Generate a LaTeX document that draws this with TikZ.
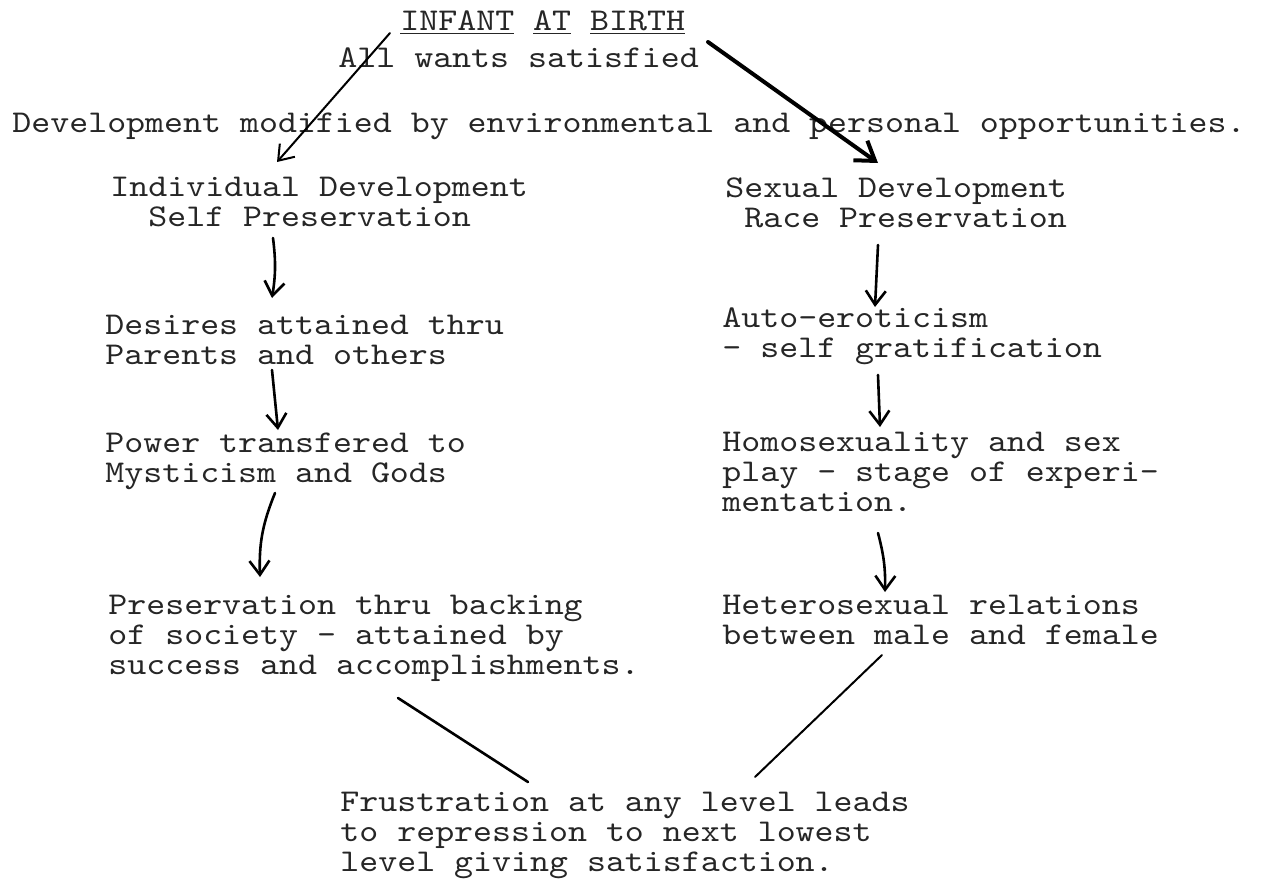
\documentclass[tikz,border=0pt]{standalone}
\usepackage{fontspec}
\setmonofont[FakeStretch=1.14]{lmmono10-regular.otf}
\usetikzlibrary{arrows.meta}

\tikzset{
  typed/.style={font={\ttfamily\fontsize{15.85pt}{15pt}\selectfont\lineskiplimit=-10pt},
    text=black!85, align=left, inner sep=0pt, anchor=north west},
  pen/.style={line width=1.3pt, line cap=round, -{Straight Barb[length=7pt,width=10pt]}},
  bigpen/.style={pen, -{Straight Barb[length=9pt,width=12pt]}},
  stroke/.style={line width=1.3pt, line cap=round}
}

\begin{document}
\begin{tikzpicture}[x=0.5pt, y=-0.5pt]
    \useasboundingbox (0,0) rectangle (1274,884);
    % heading
    \node[typed] (infant) at (400,10) {\underline{INFANT} \underline{AT} \underline{BIRTH}};
    \node[typed] (wants) at (338,47) {All wants satisfied};
    \node[typed] (devel) at (12,113) {Development modified by environmental and personal opportunities.};
    % left column
    \node[typed] (indiv) at (110,177) {Individual Development\\\phantom{xx}Self Preservation};
    \node[typed] (desires) at (105,315) {Desires attained thru\\Parents and others};
    \node[typed] (power) at (105,433) {Power transfered to\\Mysticism and Gods};
    \node[typed] (society) at (108,595) {Preservation thru backing\\of society - attained by\\success and accomplishments.};
    % right column
    \node[typed] (sexual) at (725,177) {Sexual Development\\\phantom{x}Race Preservation};
    \node[typed] (auto) at (722,307) {Auto-eroticism\\- self gratification};
    \node[typed] (homo) at (722,432) {Homosexuality and sex\\play - stage of experi-\\mentation.};
    \node[typed] (hetero) at (722,595) {Heterosexual relations\\between male and female};
    % bottom
    \node[typed] (frustr) at (340,792) {Frustration at any level leads\\to repression to next lowest\\level giving satisfaction.};

    \draw[pen, line width=1pt] ([shift={(52,-14)}]wants.north west) -- ([shift={(167,-15)}]indiv.north west);
    \draw[bigpen, line width=2pt] ([shift={(370,-5)}]wants.north west) -- ([shift={(153,-14)}]sexual.north west);

    \draw[pen] ([shift={(163,61)}]indiv.north west) to[bend left=8] ([shift={(167,-17)}]desires.north west);
    \draw[pen] ([shift={(167,55)}]desires.north west) -- ([shift={(173,-3)}]power.north west);
    \draw[pen] ([shift={(170,60)}]power.north west) to[bend right=12] ([shift={(152,-18)}]society.north west);

    \draw[pen] ([shift={(153,68)}]sexual.north west) -- ([shift={(153,0)}]auto.north west);
    \draw[pen] ([shift={(156,68)}]auto.north west) -- ([shift={(158,-5)}]homo.north west);
    \draw[pen] ([shift={(156,101)}]homo.north west) to[bend left=8] ([shift={(163,-3)}]hetero.north west);

    \draw[stroke] ([shift={(290,103)}]society.north west) -- ([shift={(188,-10)}]frustr.north west);
    \draw[stroke, line width=1pt] ([shift={(160,60)}]hetero.north west) -- ([shift={(415,-15)}]frustr.north west);
\end{tikzpicture}
\end{document}
